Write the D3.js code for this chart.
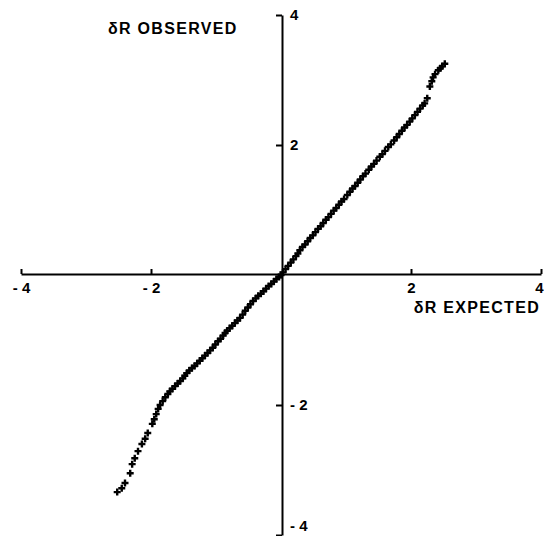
<!DOCTYPE html>
<html>
<head>
<meta charset="utf-8">
<script src="https://cdn.jsdelivr.net/npm/d3@7"></script>
<style>
  body { margin: 0; background: #fff; }
  svg text { font-family: "Liberation Sans", Arial, sans-serif; font-weight: bold; fill: #000; }
</style>
</head>
<body>
<div id="chart"></div>
<script>
// expected vs observed deltaR
const expected = [
  -2.52, -2.45, -2.40, -2.32, -2.29, -2.25, -2.20, -2.14, -2.09, -2.05,
  -1.98, -1.95, -1.92, -1.89, -1.86, -1.82, -1.78, -1.74, -1.71, -1.67,
  -1.63, -1.59, -1.55, -1.51, -1.48, -1.45, -1.41, -1.37, -1.33, -1.29,
  -1.25, -1.21, -1.17, -1.13, -1.09, -1.05, -1.01, -0.97, -0.93, -0.89,
  -0.86, -0.83, -0.79, -0.75, -0.71, -0.67, -0.63, -0.59, -0.55, -0.51,
  -0.47, -0.43, -0.39, -0.35, -0.31, -0.27, -0.23, -0.19, -0.15, -0.11,
  -0.07, -0.03, 0.00,
  0.03, 0.07, 0.11, 0.15, 0.19, 0.23, 0.26, 0.29, 0.33, 0.37,
  0.41, 0.45, 0.49, 0.53, 0.57, 0.61, 0.65, 0.69, 0.73, 0.77,
  0.81, 0.85, 0.89, 0.93, 0.97, 1.02, 1.06, 1.10, 1.14, 1.18,
  1.22, 1.26, 1.30, 1.35, 1.39, 1.43, 1.47, 1.52, 1.56, 1.60,
  1.65, 1.69, 1.74, 1.78, 1.82, 1.86, 1.90, 1.94, 1.98, 2.02,
  2.06, 2.10, 2.14, 2.18, 2.21,
  2.25, 2.29, 2.32, 2.34, 2.37, 2.42, 2.45, 2.48, 2.52
];
const observed = [
  -3.34, -3.28, -3.20, -3.05, -2.91, -2.82, -2.71, -2.60, -2.52, -2.43,
  -2.29, -2.22, -2.14, -2.06, -2.00, -1.94, -1.88, -1.83, -1.79, -1.75,
  -1.71, -1.67, -1.63, -1.59, -1.55, -1.51, -1.47, -1.43, -1.40, -1.36,
  -1.32, -1.28, -1.24, -1.20, -1.16, -1.12, -1.07, -1.02, -0.98, -0.93,
  -0.89, -0.86, -0.82, -0.78, -0.74, -0.70, -0.66, -0.61, -0.55, -0.50,
  -0.45, -0.40, -0.36, -0.32, -0.29, -0.25, -0.21, -0.17, -0.14, -0.10,
  -0.06, -0.03, 0.00,
  0.04, 0.09, 0.14, 0.19, 0.24, 0.29, 0.33, 0.38, 0.43, 0.47,
  0.52, 0.57, 0.61, 0.66, 0.71, 0.75, 0.80, 0.85, 0.89, 0.94,
  0.99, 1.03, 1.08, 1.13, 1.17, 1.23, 1.28, 1.33, 1.37, 1.42,
  1.47, 1.52, 1.56, 1.62, 1.67, 1.71, 1.76, 1.82, 1.86, 1.91,
  1.97, 2.01, 2.07, 2.12, 2.17, 2.22, 2.27, 2.31, 2.36, 2.41,
  2.46, 2.51, 2.56, 2.61, 2.64,
  2.72, 2.90, 2.98, 3.04, 3.09, 3.15, 3.18, 3.21, 3.25
];
const xTicks = [-4, -2, 2, 4];
const yTicks = [-4, -2, 2, 4];
const xTitle = "δR EXPECTED";
const yTitle = "δR OBSERVED";

const W = 544, H = 536;
const svg = d3.select("#chart").append("svg")
  .attr("width", W).attr("height", H);

const x = d3.scaleLinear().domain([-4, 4]).range([21, 541]);
const y = d3.scaleLinear().domain([-4, 4]).range([535, 15]);

const fmt = d => d < 0 ? "- " + Math.abs(d) : String(d);

// x axis through y = 0, ticks point up
const xAxis = svg.append("g")
  .attr("transform", `translate(0,${y(0) - 1})`)
  .call(d3.axisBottom(x).tickValues(xTicks).tickSize(-5).tickSizeOuter(0)
    .tickPadding(8).tickFormat(fmt));

// y axis through x = 0, ticks point left
const yAxis = svg.append("g")
  .attr("transform", `translate(${x(0) + 1},0)`)
  .call(d3.axisRight(y).tickValues(yTicks).tickSize(-6).tickSizeOuter(0)
    .tickPadding(8).tickFormat(fmt));

[xAxis, yAxis].forEach(g => {
  g.select(".domain").attr("stroke", "#000").attr("stroke-width", 2);
  g.selectAll(".tick line").attr("stroke", "#000").attr("stroke-width", 2);
  g.selectAll(".tick text").attr("font-size", 15).attr("fill", "#000");
});
// keep the edge labels inside the picture
yAxis.selectAll(".tick").filter(d => d === -4).select("text").attr("dy", "-0.3em");
xAxis.selectAll(".tick").filter(d => d === 4).select("text")
  .attr("text-anchor", "end").attr("x", 2);

// data points as small crosses
const pts = expected.map((e, i) => [e, observed[i]]);
svg.append("g").selectAll("path")
  .data(pts)
  .enter().append("path")
    .attr("transform", d => `translate(${x(d[0])},${y(d[1])})`)
    .attr("d", "M-3.5,0H3.5M0,-3.5V3.5")
    .attr("stroke", "#000")
    .attr("stroke-width", 2.4);

svg.append("text")
  .attr("x", 540).attr("y", 313)
  .attr("text-anchor", "end")
  .attr("font-size", 16)
  .attr("letter-spacing", 1.3)
  .text(xTitle);

svg.append("text")
  .attr("x", 108).attr("y", 34)
  .attr("font-size", 16)
  .attr("letter-spacing", 1.3)
  .text(yTitle);
</script>
</body>
</html>
